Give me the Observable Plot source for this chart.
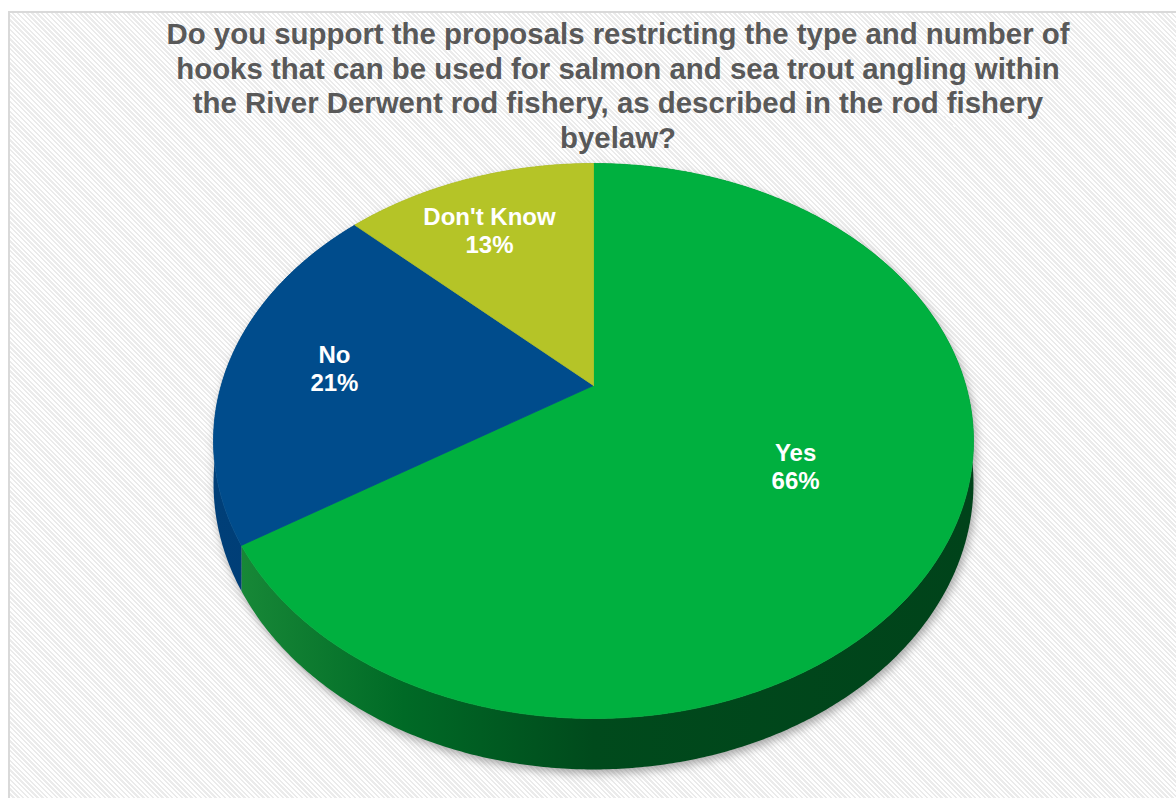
<!DOCTYPE html>
<html><head><meta charset="utf-8">
<script src="https://cdn.jsdelivr.net/npm/d3@7"></script>
<script src="https://cdn.jsdelivr.net/npm/@observablehq/plot@0.6"></script>
<style>
html,body{margin:0;padding:0;background:#fff;}
#page{position:relative;width:1176px;height:798px;overflow:hidden;font-family:"Liberation Sans",Arial,sans-serif;}
#frame{position:absolute;left:8px;top:11px;width:1300px;height:900px;border:2px solid #d9d9d9;
  background:repeating-linear-gradient(45deg,#ffffff 0px,#ffffff 1.7px,#ebebeb 1.7px,#ebebeb 3.4px);}
#title{position:absolute;left:118px;top:17px;width:1000px;text-align:center;font-weight:bold;font-size:29.4px;line-height:34.5px;color:#595959;z-index:2;}
#chart{position:absolute;left:0;top:0;z-index:1;}
</style></head><body>
<div id="page">
  <div id="frame"></div>
  <div id="chart"></div>
  <div id="title">Do you support the proposals restricting the type and number of<br>hooks that can be used for salmon and sea trout angling within<br>the River Derwent rod fishery, as described in the rod fishery<br>byelaw?</div>
</div>
<script>
// ---- data ----
const categories = ["Yes", "No", "Don't Know"];
const values = [66, 21, 13];
const valueLabels = ["66%", "21%", "13%"];

// ---- style / geometry config ----
const topColors = ["#00b03f", "#004c8c", "#b5c427"];
const sideGradients = [
  [[0, "#1b8d3a"], [0.25, "#006a26"], [0.5, "#004a1c"], [1, "#00431a"]],
  [[0, "#003f78"], [1, "#003260"]],
  [[0, "#8d991f"], [1, "#6f7918"]]
];
const labelRadius = [0.59, 0.70, 0.72];
const labelDx = [-2, -3, -10];
const W = 1176, H = 798;
const CX = 593, CY = 385, RX = 372.3, RY = 266.4;
const K = 0.2;        // perspective factor
const DEPTH = 0.153;  // pie thickness

function proj(r, phi, h = 0) {
  const u = r * Math.sin(phi), v = -r * Math.cos(phi);
  const w = 1 - K * v;
  return {x: u / w, y: (v + h) / w, v};
}

const table = categories.map((c, i) => ({cat: c, value: values[i], label: valueLabels[i], i}));
const arcs = d3.pie().sort(null).value(d => d.value)(table);

function arcPts(a0, a1, h) {
  const n = Math.max(2, Math.ceil((a1 - a0) / (Math.PI / 360)));
  const pts = [];
  for (let j = 0; j <= n; j++) pts.push(proj(1, a0 + (a1 - a0) * j / n, h));
  return pts;
}

// top faces
const topPts = [];
arcs.forEach(a => {
  topPts.push({...proj(0, 0), cat: a.data.cat});
  arcPts(a.startAngle, a.endAngle, 0).forEach(p => topPts.push({...p, cat: a.data.cat}));
  topPts.push({...proj(0, 0), cat: a.data.cat});
});

// side walls
const sidePts = arcs.map(a => {
  const top = arcPts(a.startAngle, a.endAngle, 0);
  const bot = arcPts(a.startAngle, a.endAngle, DEPTH).reverse();
  return top.concat(bot).map(p => ({...p, cat: a.data.cat}));
});

// shadow silhouette
const shadowPts = [];
for (let j = 0; j <= 720; j++) {
  const phi = j / 720 * 2 * Math.PI;
  const t = proj(1, phi, 0);
  if (t.v > K) shadowPts.push(proj(1, phi, DEPTH)); else shadowPts.push(t);
}

// labels
const labelPts = arcs.map((a, i) => {
  const p = proj(labelRadius[i], (a.startAngle + a.endAngle) / 2, 0);
  return {x: p.x, y: p.y, text: a.data.cat + "\n" + a.data.label, i};
});

const chart = Plot.plot({
  width: W, height: H, margin: 0,
  x: {domain: [-CX / RX, (W - CX) / RX], range: [0, W], axis: null},
  y: {domain: [-CY / RY, (H - CY) / RY], range: [0, H], axis: null},
  color: {domain: categories, range: topColors},
  style: {background: "transparent", overflow: "visible"},
  marks: [
    Plot.line(shadowPts, {x: "x", y: "y", fill: "#808080", stroke: "none", fillOpacity: 0.7}),
    ...sidePts.map((pts, i) => Plot.line(pts, {x: "x", y: "y", fill: topColors[i], stroke: "none"})),
    Plot.line(topPts, {x: "x", y: "y", z: "cat", fill: "cat", stroke: "cat", strokeWidth: 0.8}),
    ...labelPts.map(d => Plot.text([d], {x: "x", y: "y", text: "text", dx: labelDx[d.i], fill: "white", fontSize: 24, fontWeight: "bold",
      fontFamily: "Liberation Sans, Arial, sans-serif", lineHeight: 1.17}))
  ]
});

// defs: shadow blur and side gradients
const svg = d3.select(chart.tagName.toLowerCase() === "svg" ? chart : chart.querySelector("svg"));
const defs = svg.insert("defs", ":first-child");
const f = defs.append("filter").attr("id", "pieShadow").attr("x", "-10%").attr("y", "-10%").attr("width", "120%").attr("height", "130%");
f.append("feOffset").attr("in", "SourceGraphic").attr("dx", 2).attr("dy", 4).attr("result", "o");
f.append("feGaussianBlur").attr("in", "o").attr("stdDeviation", 5);
sideGradients.forEach((stops, i) => {
  const g = defs.append("linearGradient").attr("id", "side" + i).attr("gradientUnits", "userSpaceOnUse")
    .attr("x1", CX - RX * 1.02).attr("x2", CX + RX * 1.02).attr("y1", 0).attr("y2", 0);
  stops.forEach(([o, c]) => g.append("stop").attr("offset", o).attr("stop-color", c));
});
const lineGroups = svg.selectAll('g[aria-label="line"]').nodes();
if (lineGroups.length >= 5) {
  lineGroups[0].setAttribute("filter", "url(#pieShadow)");
  for (let i = 0; i < 3; i++) {
    lineGroups[1 + i].setAttribute("fill", "url(#side" + i + ")");
    lineGroups[1 + i].querySelectorAll("path").forEach(p => p.setAttribute("fill", "url(#side" + i + ")"));
  }
}
document.getElementById("chart").appendChild(chart);
</script>
</body></html>
